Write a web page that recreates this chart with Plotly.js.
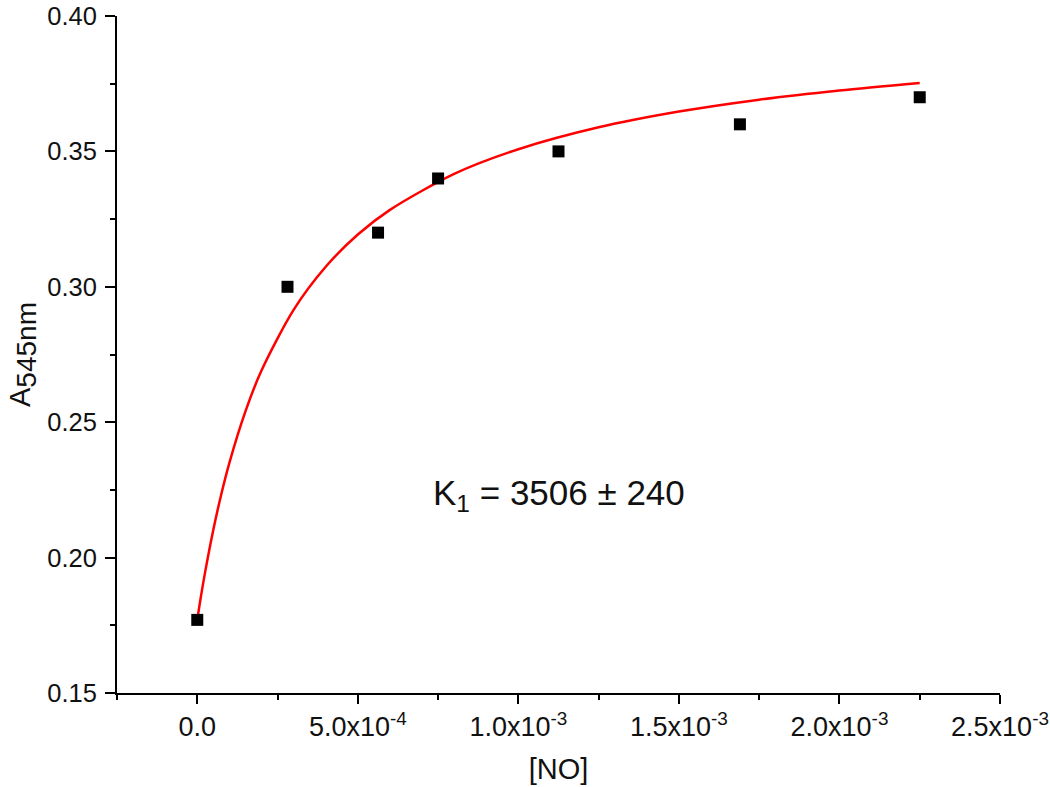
<!DOCTYPE html>
<html>
<head>
<meta charset="utf-8">
<script src="https://cdn.plot.ly/plotly-3.0.1.min.js"></script>
<style>html,body{margin:0;padding:0;background:#fff;}#chart{width:1050px;height:787px;}</style>
</head>
<body>
<div id="chart"></div>
<script>
// Measured data points
var noConc = [0, 2.81e-4, 5.63e-4, 7.5e-4, 1.125e-3, 1.69e-3, 2.25e-3];
var absorbance = [0.177, 0.300, 0.320, 0.340, 0.350, 0.360, 0.370];

// Fitted curve, values
var fitX = [0, 1e-5, 2.5e-5, 5e-5, 7.5e-5, 1e-4, 1.5e-4, 2e-4, 3e-4, 4e-4, 5e-4, 6e-4, 8e-4, 1e-3, 1.25e-3, 1.5e-3, 1.75e-3, 2e-3, 2.25e-3];
var fitY = [0.177, 0.1846, 0.1950, 0.2103, 0.2235, 0.2350, 0.2540, 0.2691, 0.2915, 0.3074, 0.3193, 0.3284, 0.3417, 0.3508, 0.3589, 0.3647, 0.3691, 0.3725, 0.3753];

var xTickVals = [0, 5e-4, 1e-3, 1.5e-3, 2e-3, 2.5e-3];
var xTickText = ['0.0', '5.0x10<sup>-4</sup>', '1.0x10<sup>-3</sup>', '1.5x10<sup>-3</sup>', '2.0x10<sup>-3</sup>', '2.5x10<sup>-3</sup>'];
var yTickVals = [0.15, 0.20, 0.25, 0.30, 0.35, 0.40];
var yTickText = ['0.15', '0.20', '0.25', '0.30', '0.35', '0.40'];

var font = 'Liberation Sans, Arial, sans-serif';

var traces = [
  {
    x: fitX, y: fitY, type: 'scatter', mode: 'lines',
    line: {color: '#ff0000', width: 2.5, shape: 'spline', smoothing: 0.8},
    hoverinfo: 'skip', showlegend: false
  },
  {
    x: noConc, y: absorbance, type: 'scatter', mode: 'markers',
    marker: {symbol: 'square', size: 12, color: '#000000'},
    showlegend: false
  }
];

var layout = {
  width: 1050, height: 787,
  margin: {l: 117, r: 50, t: 16, b: 94, pad: 0},
  paper_bgcolor: '#ffffff', plot_bgcolor: '#ffffff',
  font: {family: font, color: '#000000', size: 26},
  xaxis: {
    range: [-2.5e-4, 2.5e-3],
    showgrid: false, zeroline: false,
    showline: true, linecolor: '#000000', linewidth: 2,
    ticks: 'outside', ticklen: 9, tickwidth: 2, tickcolor: '#000000',
    tickmode: 'array', tickvals: xTickVals, ticktext: xTickText,
    tickfont: {family: font, size: 27, color: '#111111'},
    ticklabelstandoff: 0, ticklabeloverflow: 'allow',
    minor: {dtick: 2.5e-4, tick0: 0, ticks: 'outside', ticklen: 5, tickwidth: 2, tickcolor: '#000000', showgrid: false},
    title: {text: '[NO]', font: {family: font, size: 29, color: '#111111'}, standoff: 17},
    automargin: false
  },
  yaxis: {
    range: [0.15, 0.40],
    showgrid: false, zeroline: false,
    showline: true, linecolor: '#000000', linewidth: 2,
    ticks: 'outside', ticklen: 10, tickwidth: 2, tickcolor: '#000000',
    tickmode: 'array', tickvals: yTickVals, ticktext: yTickText,
    tickfont: {family: font, size: 25.5, color: '#111111'},
    ticklabelstandoff: 3, ticklabeloverflow: 'allow',
    minor: {dtick: 0.025, tick0: 0.15, ticks: 'outside', ticklen: 5, tickwidth: 2, tickcolor: '#000000', showgrid: false},
    title: {text: 'A<sub><span style="font-size:28px">545nm</span></sub>', font: {family: font, size: 29, color: '#111111'}, standoff: 8},
    automargin: false
  },
  annotations: [
    {
      x: 1.126e-3, y: 0.2233, xref: 'x', yref: 'y',
      text: 'K<sub>1</sub> = 3506 ± 240',
      showarrow: false,
      font: {family: font, size: 35, color: '#111111'},
      xanchor: 'center', yanchor: 'middle'
    }
  ]
};

Plotly.newPlot('chart', traces, layout, {staticPlot: true, displayModeBar: false});
</script>
</body>
</html>
